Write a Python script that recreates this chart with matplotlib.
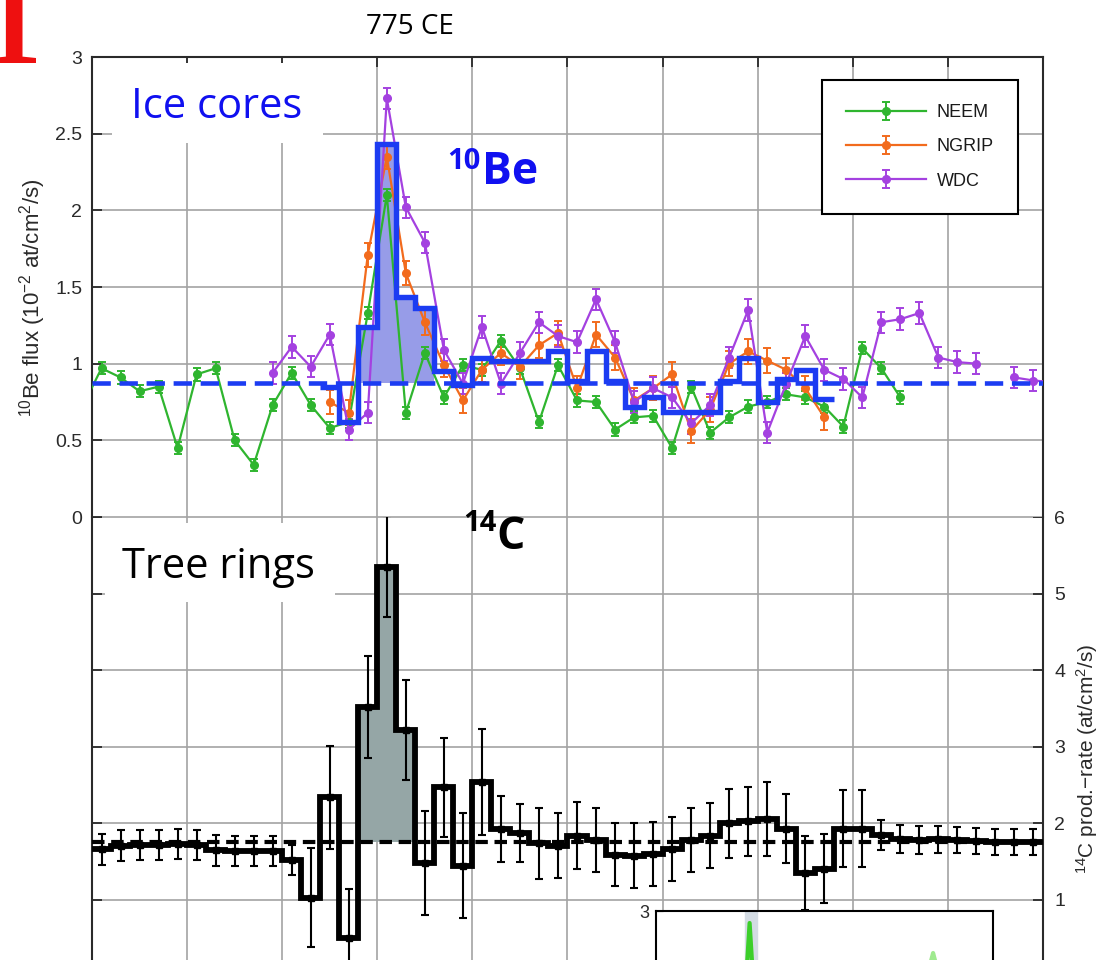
import numpy as np
import matplotlib
matplotlib.use("Agg")
import matplotlib.pyplot as plt
from matplotlib.patches import Rectangle

# ---------------- data ----------------
# 14C production rate from tree rings, annual bins [year, year+1)
c14_years = np.arange(760, 810)
c14_rate = [1.66, 1.71, 1.72, 1.72, 1.73, 1.72, 1.65, 1.64, 1.64, 1.64,
            1.52, 1.03, 2.34, 0.51, 3.52, 5.35, 3.22, 1.48, 2.47, 1.45,
            2.54, 1.93, 1.87, 1.74, 1.71, 1.84, 1.78, 1.59, 1.58, 1.60,
            1.67, 1.78, 1.84, 2.00, 2.03, 2.06, 1.93, 1.35, 1.41, 1.93,
            1.93, 1.85, 1.80, 1.78, 1.79, 1.78, 1.77, 1.76, 1.76, 1.76]
c14_err = [0.20, 0.20, 0.20, 0.20, 0.20, 0.20, 0.20, 0.20, 0.20, 0.20,
           0.20, 0.65, 0.67, 0.64, 0.67, 0.66, 0.65, 0.68, 0.65, 0.68,
           0.69, 0.43, 0.38, 0.46, 0.42, 0.44, 0.42, 0.41, 0.42, 0.42,
           0.42, 0.42, 0.42, 0.45, 0.45, 0.48, 0.45, 0.48, 0.45, 0.50,
           0.50, 0.20, 0.18, 0.18, 0.17, 0.17, 0.17, 0.17, 0.17, 0.17]
c14_baseline = 1.76
c14_event_years = [774, 775, 776]

# 10Be flux (10^-2 at/cm^2/s), composite of the ice cores
be_comp_years = np.arange(772, 799)
be_composite = [0.85, 0.62, 1.24, 2.43, 1.435, 1.36, 0.95, 0.86, 1.04, 1.02,
                1.02, 1.02, 1.08, 0.89, 1.08, 0.89, 0.72, 0.78, 0.685, 0.685,
                0.685, 0.89, 1.04, 0.75, 0.90, 0.96, 0.77]
be_baseline = 0.875
be_event_years = [774, 775, 776, 777]

neem_years = np.arange(759, 803)
neem_flux = [0.72, 0.97, 0.91, 0.82, 0.85, 0.45, 0.93, 0.97, 0.50, 0.34,
             0.73, 0.94, 0.73, 0.58, 0.62, 1.33, 2.10, 0.68, 1.07, 0.78,
             0.99, 0.96, 1.15, 0.97, 0.62, 0.99, 0.76, 0.75, 0.57, 0.65,
             0.66, 0.45, 0.85, 0.55, 0.65, 0.72, 0.75, 0.80, 0.78, 0.72,
             0.59, 1.10, 0.97, 0.78]
neem_err = 0.04

ngrip_years = np.arange(772, 799)
ngrip_flux = [0.75, 0.68, 1.71, 2.35, 1.59, 1.27, 0.99, 0.76, 0.96, 1.07,
              0.98, 1.12, 1.20, 0.84, 1.19, 1.04, 0.76, 0.84, 0.93, 0.56,
              0.70, 1.00, 1.08, 1.02, 0.96, 0.84, 0.65]
ngrip_err = 0.08

wdc_years = np.arange(769, 811)
wdc_flux = [0.94, 1.11, 0.98, 1.19, 0.57, 0.68, 2.73, 2.02, 1.79, 1.09,
            0.87, 1.24, 0.87, 1.07, 1.27, 1.18, 1.14, 1.42, 1.14, 0.75,
            0.84, 0.78, 0.61, 0.73, 1.04, 1.35, 0.55, 0.87, 1.18, 0.96,
            0.90, 0.78, 1.27, 1.29, 1.33, 1.04, 1.01, 1.00, np.nan, 0.91,
            0.89, 0.88]
wdc_err = 0.07

series_names = ["NEEM", "NGRIP", "WDC"]

# inset record (only its upper part lies inside the figure)
inset_years = [770.0, 774.6, 775.0, 775.4, 784.0, 784.8, 785.6, 788.0]
inset_vals = [1.0, 1.0, 2.82, 1.0, 1.5, 2.37, 1.5, 1.0]

# ---------------- styling ----------------
W, H, DPI = 1101, 960, 100
GREEN = "#2fb52f"
ORANGE = "#f26b1d"
PURPLE = "#a441e0"
BLUE = "#1c3cf2"
BLUE_FILL = "#979ce8"
GREY_FILL = "#95a6a6"
GRID = "#a3a3a3"
SPINE = "#2a2a2a"
TICKC = "#2a2a2a"

plt.rcParams["font.family"] = ["Liberation Sans", "DejaVu Sans"]
plt.rcParams["mathtext.default"] = "regular"

fig = plt.figure(figsize=(W / DPI, H / DPI), dpi=DPI)
fig.patch.set_facecolor("white")


def fx(px):
    return px / W


def fy(py):
    return 1 - py / H


X0, X1 = 92, 1043
Y_TOP, Y_MID, Y_BOT = 57, 517, 976.6

ax_c = fig.add_axes([fx(X0), fy(Y_BOT), fx(X1) - fx(X0), fy(Y_MID) - fy(Y_BOT)])
ax_be = fig.add_axes([fx(X0), fy(Y_MID), fx(X1) - fx(X0), fy(Y_TOP) - fy(Y_MID)])

for ax in (ax_be, ax_c):
    ax.set_xlim(760, 810)
    ax.set_xticks(np.arange(760, 811, 5))
    ax.set_axisbelow(True)
    ax.grid(True, color=GRID, lw=1.2)
    for s in ax.spines.values():
        s.set_color(SPINE)
        s.set_linewidth(1.5)

# ---- upper panel: 10Be ----
ax_be.set_ylim(0, 3)
ax_be.set_yticks(np.arange(0, 3.01, 0.5))
ax_be.set_yticklabels(["0", "0.5", "1", "1.5", "2", "2.5", "3"])
ax_be.spines["bottom"].set_visible(False)
ax_be.tick_params(axis="x", bottom=False, top=True, labelbottom=False,
                  direction="in", length=7, width=1.3, color=SPINE)
ax_be.tick_params(axis="y", left=True, right=False, direction="in",
                  length=7, width=1.3, color=SPINE, labelsize=14,
                  labelcolor=TICKC, pad=7)

comp_edges = np.append(be_comp_years, be_comp_years[-1] + 1)
i0 = list(be_comp_years).index(be_event_years[0])
i1 = i0 + len(be_event_years)
ax_be.stairs(be_composite[i0:i1], comp_edges[i0:i1 + 1], baseline=be_baseline,
             fill=True, color=BLUE_FILL, zorder=2)

handles = []
for yrs, vals, err, col, name in [(neem_years, neem_flux, neem_err, GREEN, series_names[0]),
                                  (ngrip_years, ngrip_flux, ngrip_err, ORANGE, series_names[1]),
                                  (wdc_years, wdc_flux, wdc_err, PURPLE, series_names[2])]:
    h = ax_be.errorbar(np.asarray(yrs) + 0.5, vals, yerr=err, color=col, lw=1.6,
                       marker="o", ms=5.5, capsize=3.2, elinewidth=1.4, capthick=1.4,
                       label=name, zorder=3)
    handles.append(h)

ax_be.axhline(be_baseline, color=BLUE, lw=3.3, ls=(0, (4.0, 1.9)), zorder=4)
ax_be.stairs(be_composite, comp_edges, baseline=None, color=BLUE, lw=3.9, zorder=5)

leg = ax_be.legend(handles=handles, loc="upper right",
                   bbox_to_anchor=(fx(1018), fy(80)), bbox_transform=fig.transFigure,
                   fancybox=False, framealpha=1, edgecolor="black", fontsize=13,
                   handlelength=4.45, handletextpad=0.6, labelspacing=0.96,
                   borderpad=1.33, borderaxespad=0)
leg.get_frame().set_linewidth(1.5)
for t in leg.get_texts():
    t.set_color("#1a1a1a")

# ---- lower panel: 14C ----
ax_c.set_ylim(0, 6)
ax_c.set_yticks(np.arange(0, 6.01, 1))
ax_c.set_yticklabels(["", "1", "2", "3", "4", "5", "6"])
ax_c.spines["top"].set_visible(False)
ax_c.tick_params(axis="x", bottom=False, top=False, labelbottom=False)
ax_c.tick_params(axis="y", left=True, right=True, labelleft=False, labelright=True,
                 direction="in", length=7, width=1.3, color=SPINE, labelsize=14,
                 labelcolor=TICKC, pad=8)

c_edges = np.append(c14_years, c14_years[-1] + 1)
j0 = list(c14_years).index(c14_event_years[0])
j1 = j0 + len(c14_event_years)
ax_c.stairs(c14_rate[j0:j1], c_edges[j0:j1 + 1], baseline=c14_baseline,
            fill=True, color=GREY_FILL, zorder=2)
ax_c.axhline(c14_baseline, color="black", lw=3.0, ls=(0, (3.0, 1.6)), zorder=3)
ax_c.stairs(c14_rate, c_edges, baseline=None, color="black", lw=4.2, zorder=4)
ax_c.errorbar(c14_years + 0.5, c14_rate, yerr=c14_err, fmt="s", ms=4,
              color="black", elinewidth=1.5, capsize=2.6, capthick=1.5, zorder=5)

# ---- white label boxes ----
for (px0, py0, px1, py1) in [(112, 63, 323, 143), (105, 523, 335, 602)]:
    fig.patches.append(Rectangle((fx(px0), fy(py1)), fx(px1) - fx(px0), fy(py0) - fy(py1),
                                 transform=fig.transFigure, facecolor="white",
                                 edgecolor="none", zorder=5))

# ---- inset ----
ax_in = fig.add_axes([fx(656), fy(1111), fx(993) - fx(656), fy(911) - fy(1111)])
ax_in.set_xlim(770, 788)
ax_in.set_ylim(0, 3)
ax_in.axvspan(774.75, 775.4, color="#d3dbe3", zorder=1)
ax_in.plot(inset_years[:5], inset_vals[:5], color="#3ccf2a", lw=3, zorder=2)
ax_in.plot(inset_years[4:], inset_vals[4:], color="#9fea8f", lw=3, zorder=2)
ax_in.set_xticks([])
ax_in.set_yticks([3])
ax_in.set_yticklabels(["3"])
ax_in.tick_params(axis="y", direction="in", length=5, labelsize=13, labelcolor=TICKC, pad=5)
for s in ax_in.spines.values():
    s.set_color("black")
    s.set_linewidth(1.5)
ax_in.set_ylabel("(at/cm$^2$/s)", fontsize=13, color=TICKC, labelpad=4)

# ---- axis labels ----
fig.text(fx(33), fy(298), "$^{10}$Be flux (10$^{-2}$ at/cm$^2$/s)", rotation=90,
         ha="center", va="center", fontsize=16, color=TICKC)
fig.text(fx(1087), fy(759), "$^{14}$C prod.$-$rate (at/cm$^2$/s)", rotation=90,
         ha="center", va="center", fontsize=15, color=TICKC)

# ---- annotations ----
OS = ["Open Sans", "DejaVu Sans"]
fig.text(fx(410), fy(27), "775 CE", ha="center", va="center", fontsize=20,
         family=OS, color="black")
fig.text(fx(131), fy(118), "Ice cores", ha="left", va="baseline", fontsize=30,
         family=OS, color="#1010f0", zorder=6)
fig.text(fx(122), fy(578), "Tree rings", ha="left", va="baseline", fontsize=30,
         family=OS, color="black", zorder=6)
fig.text(fx(447), fy(147), "10", ha="left", va="top", fontsize=21, weight="bold",
         family=OS, color="#1010f0")
fig.text(fx(482), fy(184), "Be", ha="left", va="baseline", fontsize=32, weight="bold",
         family=OS, color="#1010f0")
fig.text(fx(463), fy(509), "14", ha="left", va="top", fontsize=21, weight="bold",
         family=OS, color="black")
fig.text(fx(496), fy(549), "C", ha="left", va="baseline", fontsize=32, weight="bold",
         family=OS, color="black")
fig.text(fx(-18), fy(63), "1", ha="left", va="baseline", fontsize=85, weight="bold",
         family=["Liberation Serif", "DejaVu Serif"], color="#ee1010")

fig.savefig("out.png", dpi=DPI)
